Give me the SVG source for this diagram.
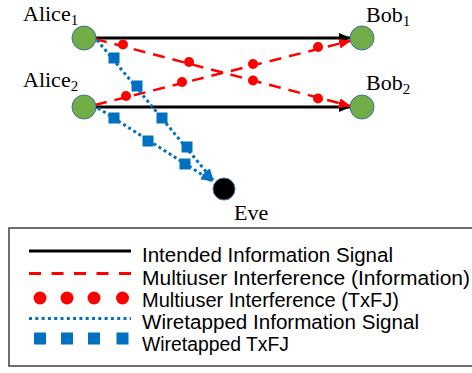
<svg xmlns="http://www.w3.org/2000/svg" width="472" height="373" viewBox="0 0 472 373">
<defs>
<style>
.node{fill:#70AD47;stroke:#41719C;stroke-width:1}
.eve{fill:#000;stroke:#41719C;stroke-width:1}
.lbl{font-family:"Liberation Serif","Times New Roman",serif;font-size:22px;fill:#000}
.sub{font-size:15px}
.leg{font-family:"Liberation Sans",Arial,sans-serif;font-size:20px;fill:#000}
.blk{stroke:#000;stroke-width:3;fill:none}
.red{stroke:#FF0000;stroke-width:2.5;fill:none;stroke-dasharray:12 8}
.blu{stroke:#0070C0;stroke-width:3;fill:none;stroke-dasharray:3 3}
.rdot{fill:#FF0000}
.bsq{fill:#0070C0}
</style>
<marker id="ab" markerUnits="userSpaceOnUse" markerWidth="12" markerHeight="10" refX="11" refY="5" orient="auto"><path d="M0,0 L12,5 L0,10 Z" fill="#000"/></marker>
<marker id="ar" markerUnits="userSpaceOnUse" markerWidth="12" markerHeight="10" refX="11" refY="5" orient="auto"><path d="M0,0 L12,5 L0,10 Z" fill="#FF0000"/></marker>
<marker id="au" markerUnits="userSpaceOnUse" markerWidth="12" markerHeight="10" refX="11" refY="5" orient="auto"><path d="M0,0 L12,5 L0,10 Z" fill="#0070C0"/></marker>
</defs>
<rect x="9" y="228" width="470" height="138" fill="none" stroke="#404040" stroke-width="1.5"/>
<g id="connectors">
<line class="blk" x1="96" y1="38" x2="350" y2="38" marker-end="url(#ab)"/>
<line class="blk" x1="96" y1="107" x2="350" y2="107" marker-end="url(#ab)"/>
<line class="red" x1="95" y1="39" x2="350" y2="106" marker-end="url(#ar)"/>
<line class="red" x1="95" y1="105" x2="350" y2="41" marker-end="url(#ar)"/>
<circle class="rdot" cx="123" cy="44.5" r="5"/>
<circle class="rdot" cx="189" cy="62" r="5"/>
<circle class="rdot" cx="253" cy="80.5" r="5"/>
<circle class="rdot" cx="318" cy="98.5" r="5"/>
<circle class="rdot" cx="126" cy="96" r="5"/>
<circle class="rdot" cx="182" cy="82" r="5"/>
<circle class="rdot" cx="253" cy="64" r="5"/>
<circle class="rdot" cx="318" cy="47" r="5"/>
<line class="blu" x1="97" y1="40" x2="213" y2="180" marker-end="url(#au)"/>
<line class="blu" x1="98" y1="108" x2="212" y2="181" marker-end="url(#au)"/>
<rect class="bsq" x="108.5" y="52.5" width="11" height="11"/>
<rect class="bsq" x="131.5" y="80.5" width="11" height="11"/>
<rect class="bsq" x="156.5" y="112.5" width="11" height="11"/>
<rect class="bsq" x="181.5" y="141.5" width="11" height="11"/>
<rect class="bsq" x="108.5" y="112.5" width="11" height="11"/>
<rect class="bsq" x="142.5" y="135.5" width="11" height="11"/>
<rect class="bsq" x="179.5" y="158.5" width="11" height="11"/>
</g>
<g id="alice1"><circle class="node" cx="84" cy="38" r="12"/><text class="lbl" x="23" y="21">Alice<tspan class="sub" dy="4">1</tspan></text></g>
<g id="alice2"><circle class="node" cx="84" cy="107" r="12"/><text class="lbl" x="23" y="87">Alice<tspan class="sub" dy="4">2</tspan></text></g>
<g id="bob1"><circle class="node" cx="362" cy="38" r="12"/><text class="lbl" x="366" y="22">Bob<tspan class="sub" dy="4">1</tspan></text></g>
<g id="bob2"><circle class="node" cx="362" cy="107" r="12"/><text class="lbl" x="366" y="90">Bob<tspan class="sub" dy="4">2</tspan></text></g>
<g id="eve"><circle class="eve" cx="224" cy="189" r="11"/><text class="lbl" x="234" y="220">Eve</text></g>
<g id="legend">
<line x1="29" y1="251" x2="131" y2="251" stroke="#000" stroke-width="3"/>
<line x1="29" y1="273.5" x2="131" y2="273.5" stroke="#FF0000" stroke-width="3" stroke-dasharray="12 10.5"/>
<circle class="rdot" cx="40" cy="298" r="6.5"/>
<circle class="rdot" cx="67" cy="298" r="6.5"/>
<circle class="rdot" cx="94" cy="298" r="6.5"/>
<circle class="rdot" cx="122.5" cy="298" r="6.5"/>
<line x1="29" y1="318.5" x2="131" y2="318.5" stroke="#0070C0" stroke-width="3" stroke-dasharray="3 3.3"/>
<rect class="bsq" x="34" y="332.5" width="12" height="12"/>
<rect class="bsq" x="61" y="332.5" width="12" height="12"/>
<rect class="bsq" x="88" y="332.5" width="12" height="12"/>
<rect class="bsq" x="116.5" y="332.5" width="12" height="12"/>
<text class="leg" x="142" y="262" textLength="251" lengthAdjust="spacingAndGlyphs">Intended Information Signal</text>
<text class="leg" x="142" y="284.5" textLength="328" lengthAdjust="spacingAndGlyphs">Multiuser Interference (Information)</text>
<text class="leg" x="142" y="307" textLength="257" lengthAdjust="spacingAndGlyphs">Multiuser Interference (TxFJ)</text>
<text class="leg" x="142" y="329" textLength="277" lengthAdjust="spacingAndGlyphs">Wiretapped Information Signal</text>
<text class="leg" x="142" y="351" textLength="147" lengthAdjust="spacingAndGlyphs">Wiretapped TxFJ</text>
</g>
</svg>
